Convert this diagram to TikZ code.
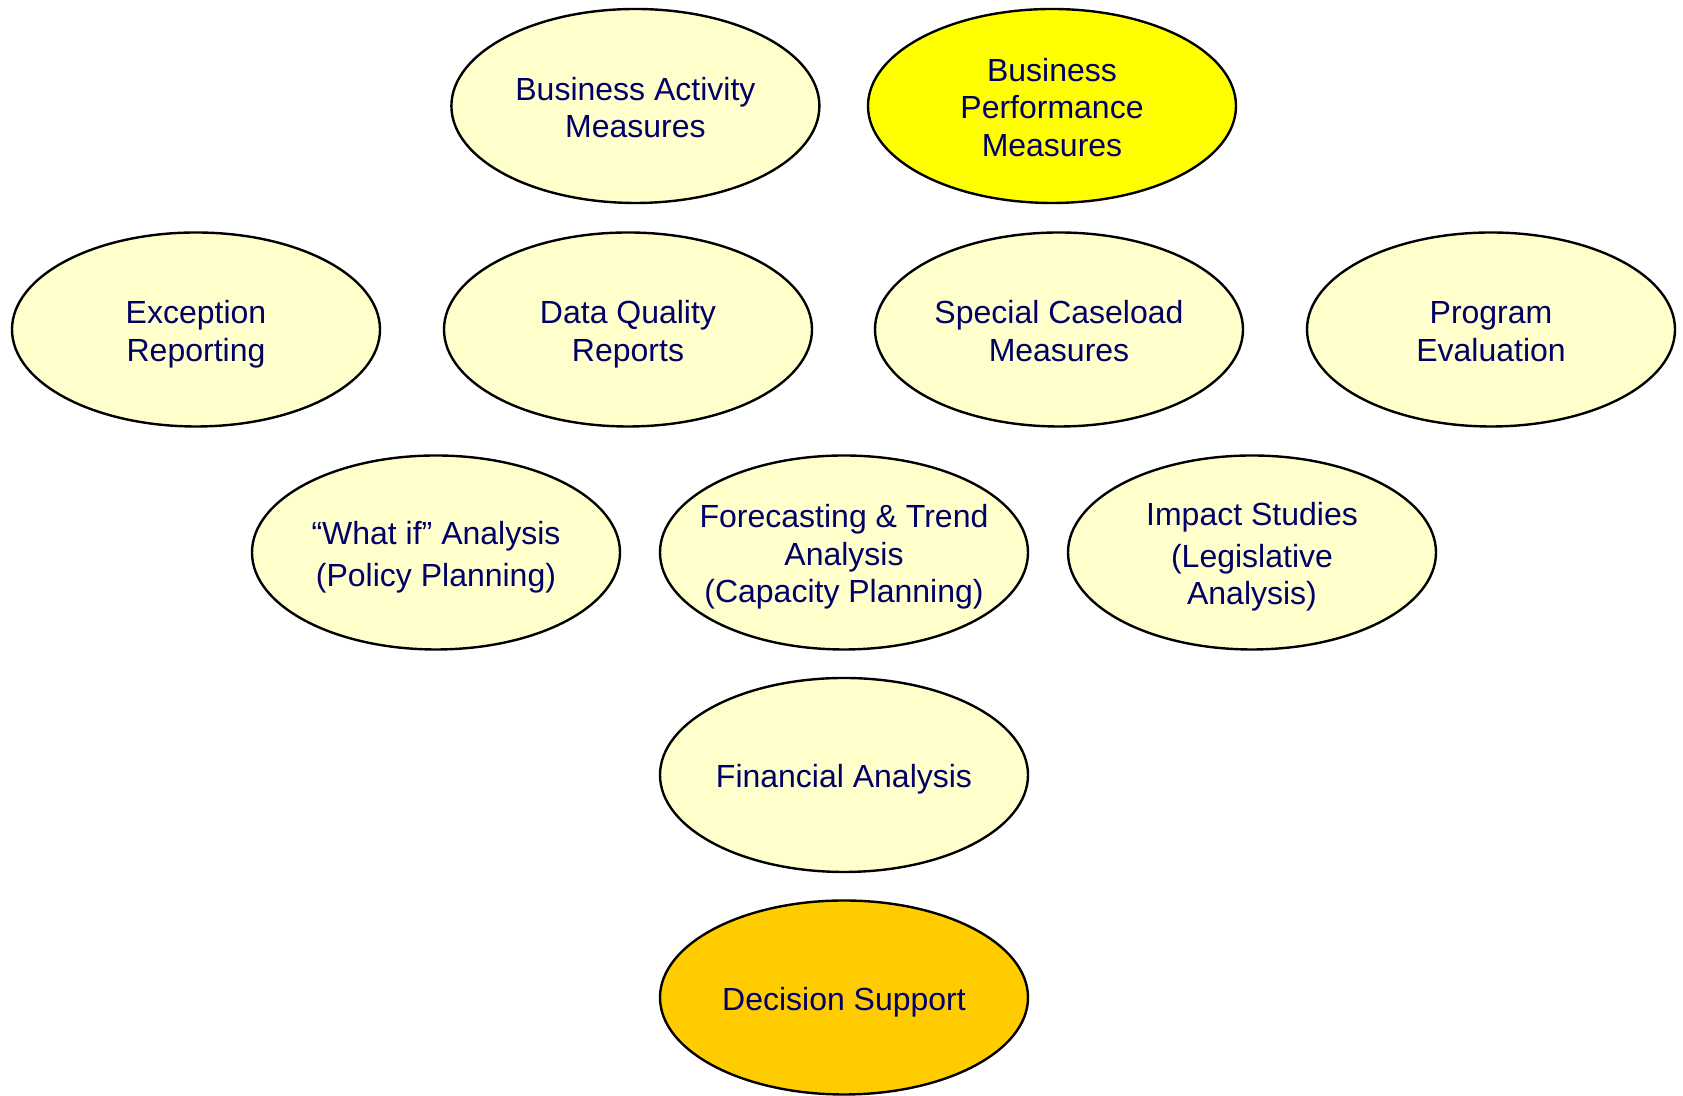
\documentclass[tikz,border=0pt]{standalone}
\usepackage{fontspec}
\setmainfont{Liberation Sans}
\usetikzlibrary{shapes.geometric}
\definecolor{navytext}{RGB}{0,0,102}
\definecolor{paleyellow}{RGB}{255,255,204}
\definecolor{brightyellow}{RGB}{255,255,0}
\definecolor{goldyellow}{RGB}{255,204,0}
\newcommand{\ovaltext}[1]{\makebox[0pt]{\raisebox{-7pt}[0pt][0pt]{\begin{tabular}{@{}c@{}}#1\end{tabular}}}}
\tikzset{
  oval/.style={ellipse, draw=black, line width=1.2pt, inner sep=0pt,
    minimum width=184pt, minimum height=97pt, text=navytext,
    font=\fontsize{16}{18.8}\selectfont},
  pale/.style={oval, fill=paleyellow},
  bright/.style={oval, fill=brightyellow},
  gold/.style={oval, fill=goldyellow}
}
\begin{document}
\begin{tikzpicture}[x=50pt,y=50pt]
\useasboundingbox (0,0) rectangle (16.83,10.96);
\node[pale](busact) at (6.354,9.90) {\ovaltext{Business Activity\\Measures}};
\node[bright](busperf) at (10.52,9.90) {\ovaltext{Business\\Performance\\Measures}};
%
\node[pale](except) at (1.96,7.665) {\ovaltext{Exception\\Reporting}};
\node[pale](dataq) at (6.28,7.665) {\ovaltext{Data Quality\\Reports}};
\node[pale](special) at (10.59,7.665) {\ovaltext{Special Caseload\\Measures}};
\node[pale](progeval) at (14.91,7.665) {\ovaltext{Program\\Evaluation}};
%
\node[pale](whatif) at (4.36,5.435) {\ovaltext{``What if'' Analysis\\[2pt](Policy Planning)}};
\node[pale](forecast) at (8.44,5.435) {\ovaltext{Forecasting \& Trend\\Analysis\\(Capacity Planning)}};
\node[pale](impact) at (12.52,5.435) {\ovaltext{Impact Studies\\[2pt](Legislative\\Analysis)}};
%
\node[pale](financial) at (8.44,3.21) {\ovaltext{Financial Analysis}};
\node[gold](decision) at (8.44,0.985) {\ovaltext{Decision Support}};
\end{tikzpicture}
\end{document}
